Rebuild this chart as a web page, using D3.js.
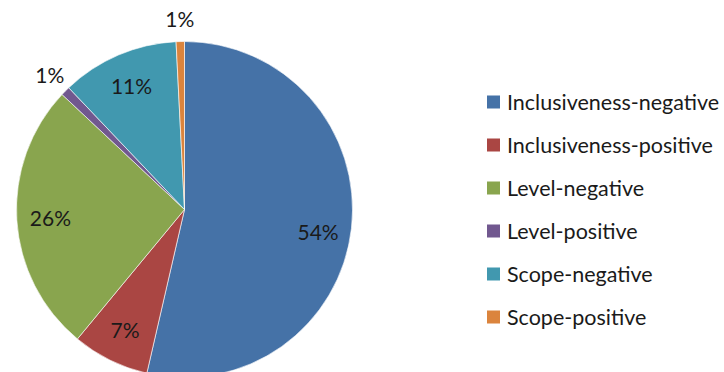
<!DOCTYPE html>
<html>
<head>
<meta charset="utf-8">
<script src="https://cdn.jsdelivr.net/npm/d3@7"></script>
<style>
  body { margin: 0; background: #fff; }
  svg { display: block; font-family: Lato, "Open Sans", sans-serif; }
</style>
</head>
<body>
<div id="container"></div>
<script>
// slice names, share of total (%) and colours
var categories = ['Inclusiveness-negative', 'Inclusiveness-positive', 'Level-negative',
                  'Level-positive', 'Scope-negative', 'Scope-positive'];
var values = [53.6, 7.4, 26.0, 0.9, 11.3, 0.8];
var colors = ['#4572A7', '#AA4643', '#89A54E', '#71588F', '#4198AF', '#DB843D'];

var width = 724, height = 372;
var cx = 184.5, cy = 209.5, radius = 168;

var svg = d3.select('#container').append('svg')
  .attr('width', width)
  .attr('height', height);

var color = d3.scaleOrdinal().domain(categories).range(colors);

var data = categories.map(function(c, i) { return { name: c, value: values[i] }; });

var pie = d3.pie()
  .sort(null)
  .value(function(d) { return d.value; });

var arcs = pie(data);

var arc = d3.arc().innerRadius(0).outerRadius(radius);
var inLabel = d3.arc().innerRadius(radius * 0.8).outerRadius(radius * 0.8);
var outLabel = d3.arc().innerRadius(radius * 1.13).outerRadius(radius * 1.13);

var g = svg.append('g').attr('transform', 'translate(' + cx + ',' + cy + ')');

g.selectAll('path.slice')
  .data(arcs)
  .enter()
  .append('path')
  .attr('class', 'slice')
  .attr('d', arc)
  .attr('fill', function(d) { return color(d.data.name); })
  .attr('stroke', '#fff')
  .attr('stroke-width', 0.6);

var total = d3.sum(values);

g.selectAll('text.pct')
  .data(arcs)
  .enter()
  .append('text')
  .attr('class', 'pct')
  .attr('transform', function(d) {
    var p = (d.data.value < 2 ? outLabel : inLabel).centroid(d);
    // the big slice's label sits a little lower, as in the picture
    if (d.data.value > 50) p[1] += 8;
    return 'translate(' + p[0] + ',' + p[1] + ')';
  })
  .attr('text-anchor', 'middle')
  .attr('dy', '0.36em')
  .style('font-size', '21px')
  .style('fill', '#1a1a1a')
  .text(function(d) { return Math.round(d.data.value / total * 100) + '%'; });

// legend
var legendY = d3.scalePoint().domain(categories).range([102, 317]);

var legend = svg.selectAll('g.legend')
  .data(categories)
  .enter()
  .append('g')
  .attr('class', 'legend')
  .attr('transform', function(d) { return 'translate(487,' + legendY(d) + ')'; });

legend.append('rect')
  .attr('x', 0)
  .attr('y', -6.5)
  .attr('width', 13)
  .attr('height', 13)
  .attr('fill', function(d) { return color(d); });

legend.append('text')
  .attr('x', 20)
  .attr('dy', '0.36em')
  .style('font-size', '21.5px')
  .style('fill', '#1a1a1a')
  .text(function(d) { return d; });
</script>
</body>
</html>
